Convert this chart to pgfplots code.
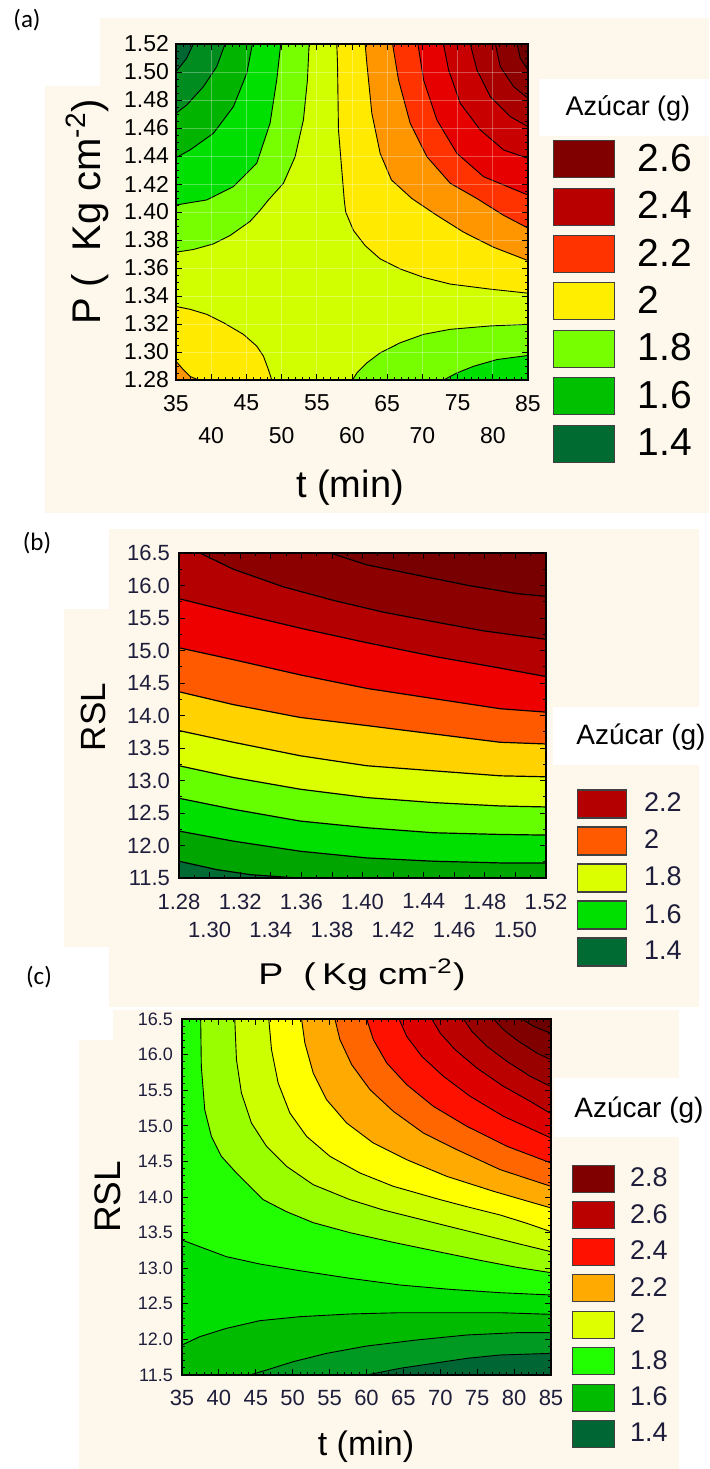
\documentclass[border=0pt]{standalone}
\usepackage{graphicx}
\usepackage{pgfplots}
\pgfplotsset{compat=1.18}
\usepackage{fontspec}
\setmainfont{Liberation Sans}
\newfontfamily\calibri{Carlito}
\newcommand{\fs}[1]{\fontsize{#1}{#1}\selectfont}
\definecolor{cream}{HTML}{FEF8EC}
\definecolor{navy}{HTML}{1E1E3C}
% panel a
\definecolor{aA}{HTML}{006633}
\definecolor{aB}{HTML}{008C1E}
\definecolor{aC}{HTML}{00B400}
\definecolor{aD}{HTML}{00E000}
\definecolor{aE}{HTML}{77FF00}
\definecolor{aF}{HTML}{D2FF00}
\definecolor{aG}{HTML}{FFEA00}
\definecolor{aH}{HTML}{FF9600}
\definecolor{aI}{HTML}{FF3300}
\definecolor{aJ}{HTML}{E60000}
\definecolor{aK}{HTML}{C80000}
\definecolor{aL}{HTML}{A80000}
\definecolor{aM}{HTML}{8C0000}
\definecolor{aN}{HTML}{700000}
\definecolor{laA}{HTML}{800000}
\definecolor{laB}{HTML}{B80000}
\definecolor{laC}{HTML}{FF3300}
\definecolor{laD}{HTML}{FFEE00}
\definecolor{laE}{HTML}{77FF00}
\definecolor{laF}{HTML}{00C000}
\definecolor{laG}{HTML}{006B30}
% panel b
\definecolor{bA}{HTML}{006B33}
\definecolor{bB}{HTML}{00A500}
\definecolor{bC}{HTML}{00E000}
\definecolor{bD}{HTML}{66FF00}
\definecolor{bE}{HTML}{DCFF00}
\definecolor{bF}{HTML}{FFD200}
\definecolor{bG}{HTML}{FF5A00}
\definecolor{bH}{HTML}{EE0000}
\definecolor{bI}{HTML}{B40000}
\definecolor{bJ}{HTML}{8C0000}
\definecolor{bK}{HTML}{780000}
% panel c
\definecolor{cA}{HTML}{006633}
\definecolor{cB}{HTML}{009922}
\definecolor{cC}{HTML}{00BB00}
\definecolor{cD}{HTML}{00DD00}
\definecolor{cE}{HTML}{22FF00}
\definecolor{cF}{HTML}{99FF00}
\definecolor{cG}{HTML}{CCFF00}
\definecolor{cH}{HTML}{FFFF00}
\definecolor{cI}{HTML}{FFAA00}
\definecolor{cJ}{HTML}{FF6600}
\definecolor{cK}{HTML}{FF1100}
\definecolor{cL}{HTML}{DD0000}
\definecolor{cM}{HTML}{BB0000}
\definecolor{cN}{HTML}{990000}
\definecolor{cO}{HTML}{800000}
\definecolor{cP}{HTML}{6B0000}
\definecolor{lcE}{HTML}{DDFF00}
\pgfplotsset{
  cstyle/.style={scale only axis, anchor=south west, axis on top, tick align=inside,
    major tick length=3pt, minor tick length=1.5pt,
    axis line style={line width=0.6pt},
    every tick/.style={black, line width=0.4pt},
    legend cell align=left},
  reg/.style={fill=#1, draw=black, line width=0.45pt, line join=round, forget plot},
  base/.style={fill=#1, draw=none, forget plot},
}
\begin{document}
\begin{tikzpicture}
\useasboundingbox (0,0) rectangle (354.5pt,734.5pt);
% backgrounds
\fill[cream] (50pt,478pt) rectangle (354.5pt,725.5pt);
\fill[cream] (22.5pt,478pt) rectangle (50pt,691.5pt);
\fill[white] (269.5pt,666.5pt) rectangle (354.5pt,695pt);
\fill[cream] (54.5pt,231pt) rectangle (349.5pt,470pt);
\fill[cream] (32pt,261pt) rectangle (54.5pt,430pt);
\fill[white] (276.5pt,352pt) rectangle (354.5pt,381pt);
\fill[cream] (56.5pt,0pt) rectangle (339.5pt,229.5pt);
\fill[cream] (39.5pt,0pt) rectangle (56.5pt,214.5pt);
\fill[white] (277pt,166pt) rectangle (354.5pt,195.5pt);

% ================= panel (a) =================
\begin{axis}[cstyle, at={(88pt,544.5pt)}, width=176pt, height=168pt,
  xmin=35, xmax=85, ymin=1.28, ymax=1.52,
  xtick={35,45,55,65,75,85}, xticklabels={35,45,55,65,75,85},
  extra x ticks={40,50,60,70,80}, extra x tick labels={40,50,60,70,80},
  extra x tick style={grid=major, xticklabel style={yshift=-16pt}},
  ytick={1.28,1.30,1.32,1.34,1.36,1.38,1.40,1.42,1.44,1.46,1.48,1.50,1.52},
  yticklabels={1.28,1.30,1.32,1.34,1.36,1.38,1.40,1.42,1.44,1.46,1.48,1.50,1.52},
  minor x tick num=9, minor y tick num=3,
  grid=major, grid style={white, opacity=0.3, line width=0.3pt},
  tick label style={font=\fs{11.5}}, xticklabel style={yshift=-4pt},
  legend style={draw=none, fill=none, inner sep=0pt, outer sep=0pt, row sep=4.6pt,
    column sep=9.5pt, font=\fs{19.5}, at={(1.071,0.7143)}, anchor=north west},
  legend image code/.code={\draw[#1, draw=black!75, line width=0.5pt] (0pt,-9.25pt) rectangle (30.5pt,9.25pt);},
]
\addplot[base=aF] coordinates {(35,1.28)(85,1.28)(85,1.52)(35,1.52)};
% top-left (low) corner
\addplot[reg=aE] coordinates {(53.91,1.52)(53.67,1.4943)(53.10,1.4657)(51.92,1.4395)(50.26,1.4205)(48.13,1.4086)(46.94,1.4012)(45.52,1.3933)(42.68,1.3832)(40.31,1.3772)(37.46,1.3732)(35,1.3713)(35,1.52)};
\addplot[reg=aD] coordinates {(49.88,1.52)(49.31,1.4943)(48.36,1.4633)(46.47,1.4348)(43.15,1.4181)(39.36,1.4086)(35,1.405)(35,1.52)};
\addplot[reg=aC] coordinates {(45.85,1.52)(45.05,1.499)(43.15,1.4752)(40.31,1.4562)(36.99,1.4443)(35,1.4388)(35,1.52)};
\addplot[reg=aB] coordinates {(41.97,1.52)(40.78,1.5038)(38.89,1.4895)(36.52,1.4764)(35,1.4705)(35,1.52)};
\addplot[reg=aA] coordinates {(37.46,1.52)(36.52,1.5098)(35,1.5002)(35,1.52)};
% bottom-right (low) corner
\addplot[reg=aE] coordinates {(60.07,1.28)(60.69,1.285)(62.11,1.2922)(64.0,1.2994)(66.85,1.3066)(70.17,1.3126)(73.96,1.3162)(79.64,1.3186)(85,1.3198)(85,1.28)};
\addplot[reg=aD] coordinates {(73.0,1.28)(74.9,1.285)(77.27,1.2898)(80.59,1.2946)(85,1.2975)(85,1.28)};
% bottom-left (high) corner
\addplot[reg=aG] coordinates {(35,1.3325)(36.99,1.3305)(39.36,1.3269)(41.73,1.321)(44.57,1.3126)(46.47,1.3042)(47.42,1.297)(48.13,1.2874)(48.6,1.28)(35,1.28)};
\addplot[reg=aH] coordinates {(35,1.2934)(36.04,1.2874)(36.99,1.2826)(38.18,1.28)(35,1.28)};
% top-right (high) corner
\addplot[reg=aG] coordinates {(57.84,1.52)(57.94,1.5062)(58.08,1.4586)(58.55,1.43)(58.9,1.4086)(59.1,1.40)(60.21,1.3868)(61.87,1.376)(64.0,1.3665)(66.85,1.3593)(70.17,1.3533)(73.96,1.3485)(79.64,1.3449)(85,1.342)(85,1.52)};
\addplot[reg=aH] coordinates {(61.87,1.52)(62.11,1.5062)(62.82,1.4705)(64.0,1.4419)(65.6,1.4229)(68.51,1.4096)(72.06,1.3976)(75.85,1.3856)(80.12,1.3748)(85,1.3653)(85,1.52)};
\addplot[reg=aI] coordinates {(65.76,1.52)(66.61,1.4943)(68.27,1.4633)(70.64,1.4395)(73.96,1.4205)(77.75,1.4096)(81.54,1.3976)(85,1.3885)(85,1.52)};
\addplot[reg=aJ] coordinates {(69.36,1.52)(70.17,1.4943)(72.06,1.4657)(74.9,1.4419)(78.7,1.4252)(85,1.4121)(85,1.52)};
\addplot[reg=aK] coordinates {(73.0,1.52)(73.72,1.5014)(75.38,1.4776)(78.22,1.4586)(81.54,1.4443)(85,1.4383)(85,1.52)};
\addplot[reg=aL] coordinates {(76.8,1.52)(77.75,1.5014)(79.64,1.4824)(82.49,1.4681)(85,1.461)(85,1.52)};
\addplot[reg=aM] coordinates {(80.36,1.52)(81.07,1.5038)(82.96,1.4895)(85,1.4812)(85,1.52)};
\addplot[reg=aN] coordinates {(83.44,1.52)(83.9,1.5098)(85,1.5014)(85,1.52)};
\addlegendimage{fill=laA}\addlegendentry{2.6}
\addlegendimage{fill=laB}\addlegendentry{2.4}
\addlegendimage{fill=laC}\addlegendentry{2.2}
\addlegendimage{fill=laD}\addlegendentry{2}
\addlegendimage{fill=laE}\addlegendentry{1.8}
\addlegendimage{fill=laF}\addlegendentry{1.6}
\addlegendimage{fill=laG}\addlegendentry{1.4}
\end{axis}

% ================= panel (b) =================
\begin{axis}[cstyle, at={(89.5pt,295.5pt)}, width=183.5pt, height=162.5pt,
  xmin=1.28, xmax=1.52, ymin=11.5, ymax=16.5,
  xtick={1.28,1.32,1.36,1.40,1.44,1.48,1.52}, xticklabels={1.28,1.32,1.36,1.40,1.44,1.48,1.52},
  extra x ticks={1.30,1.34,1.38,1.42,1.46,1.50}, extra x tick labels={1.30,1.34,1.38,1.42,1.46,1.50},
  extra x tick style={xticklabel style={yshift=-14pt}},
  ytick={11.5,12,12.5,13,13.5,14,14.5,15,15.5,16,16.5},
  yticklabels={11.5,12.0,12.5,13.0,13.5,14.0,14.5,15.0,15.5,16.0,16.5},
  minor x tick num=3, minor y tick num=1,
  tick label style={font=\fs{11}, text=navy}, xticklabel style={yshift=-4.4pt}, yticklabel style={xshift=-1pt},
  legend style={draw=none, fill=none, inner sep=0pt, outer sep=0pt, row sep=3.6pt,
    column sep=6.5pt, font=\fs{13.5}, text=navy, at={(1.0845,0.2738)}, anchor=north west},
  legend image code/.code={\draw[#1, draw=black!75, line width=0.6pt] (0pt,-7pt) rectangle (24.5pt,7pt);},
]
\addplot[base=bA] coordinates {(1.28,11.5)(1.52,11.5)(1.52,16.5)(1.28,16.5)};
\addplot[reg=bB, line width=0.6pt] coordinates {(1.52,16.5)(1.28,16.5)(1.28,11.758)(1.3047,11.629)(1.3265,11.552)(1.357,11.5)(1.52,11.5)};
\addplot[reg=bC, line width=0.6pt] coordinates {(1.52,16.5)(1.28,16.5)(1.28,12.222)(1.3156,12.067)(1.3592,11.912)(1.4028,11.809)(1.4465,11.758)(1.4901,11.732)(1.52,11.732)};
\addplot[reg=bD, line width=0.6pt] coordinates {(1.52,16.5)(1.28,16.5)(1.28,12.727)(1.3156,12.557)(1.3592,12.376)(1.4028,12.273)(1.4465,12.196)(1.4901,12.170)(1.52,12.160)};
\addplot[reg=bE, line width=0.6pt] coordinates {(1.52,16.5)(1.28,16.5)(1.28,13.227)(1.3156,13.046)(1.3592,12.866)(1.4028,12.737)(1.4465,12.66)(1.4901,12.608)(1.52,12.593)};
\addplot[reg=bF, line width=0.6pt] coordinates {(1.52,16.5)(1.28,16.5)(1.28,13.768)(1.3156,13.588)(1.3592,13.381)(1.4028,13.227)(1.4465,13.149)(1.4901,13.072)(1.52,13.057)};
\addplot[reg=bG, line width=0.6pt] coordinates {(1.52,16.5)(1.28,16.5)(1.28,14.365)(1.3156,14.167)(1.3592,13.97)(1.4028,13.845)(1.4465,13.716)(1.4901,13.588)(1.52,13.562)};
\addplot[reg=bH, line width=0.6pt] coordinates {(1.52,16.5)(1.28,16.5)(1.28,15.042)(1.3156,14.859)(1.3592,14.625)(1.4028,14.417)(1.4465,14.26)(1.4901,14.104)(1.52,14.052)};
\addplot[reg=bI, line width=0.6pt] coordinates {(1.52,16.5)(1.28,16.5)(1.28,15.797)(1.3156,15.589)(1.3592,15.344)(1.4028,15.120)(1.4465,14.911)(1.4901,14.729)(1.52,14.599)};
\addplot[reg=bJ, line width=0.6pt] coordinates {(1.52,16.5)(1.2937,16.5)(1.3156,16.25)(1.3483,15.979)(1.3810,15.771)(1.4138,15.589)(1.4465,15.443)(1.4792,15.302)(1.52,15.172)};
\addplot[reg=bK, line width=0.6pt] coordinates {(1.52,16.5)(1.3788,16.5)(1.4028,16.318)(1.4356,16.161)(1.4683,16.005)(1.5010,15.875)(1.52,15.833)};
\addlegendimage{fill=bI}\addlegendentry{2.2}
\addlegendimage{fill=bG}\addlegendentry{2}
\addlegendimage{fill=bE}\addlegendentry{1.8}
\addlegendimage{fill=bC}\addlegendentry{1.6}
\addlegendimage{fill=bA}\addlegendentry{1.4}
\end{axis}

% ================= panel (c) =================
\begin{axis}[cstyle, at={(91pt,47pt)}, width=184.5pt, height=178pt,
  xmin=35, xmax=85, ymin=11.5, ymax=16.5,
  xtick={35,40,45,50,55,60,65,70,75,80,85}, xticklabels={35,40,45,50,55,60,65,70,75,80,85},
  ytick={11.5,12,12.5,13,13.5,14,14.5,15,15.5,16,16.5},
  yticklabels={11.5,12.0,12.5,13.0,13.5,14.0,14.5,15.0,15.5,16.0,16.5},
  minor x tick num=4, minor y tick num=4,
  xticklabel style={font=\fs{11}, text=navy, yshift=-3.9pt},
  yticklabel style={font=\fs{9}, text=navy, xshift=-1pt},
  legend style={draw=none, fill=none, inner sep=0pt, outer sep=0pt, row sep=3.3pt,
    column sep=5.5pt, font=\fs{13.5}, text=navy, at={(1.0569,0.5927)}, anchor=north west},
  legend image code/.code={\draw[#1, draw=black!75, line width=0.6pt] (0pt,-6.75pt) rectangle (21pt,6.75pt);},
]
\addplot[base=cD] coordinates {(35,11.5)(85,11.5)(85,16.5)(35,16.5)};
% low side
\addplot[reg=cC] coordinates {(85,11.5)(35,11.5)(35,11.921)(37.40,12.038)(41.02,12.155)(45.54,12.263)(50.97,12.319)(57.76,12.357)(64.55,12.375)(71.33,12.375)(78.12,12.375)(85,12.352)};
\addplot[reg=cB] coordinates {(85,11.5)(44.19,11.5)(46.45,11.570)(50.07,11.687)(54.59,11.804)(60.02,11.907)(66.81,11.992)(73.60,12.062)(80.38,12.095)(85,12.095)};
\addplot[reg=cA] coordinates {(85,11.5)(60.02,11.5)(64.55,11.594)(69.07,11.664)(73.60,11.734)(78.12,11.781)(85,11.804)};
% high side
\addplot[reg=cE] coordinates {(85,16.5)(35,16.5)(35,13.396)(37.40,13.302)(41.02,13.162)(45.54,13.059)(50.97,12.965)(57.76,12.858)(64.55,12.764)(71.33,12.703)(78.12,12.656)(85,12.624)};
\addplot[reg=cF] coordinates {(85,16.5)(37.53,16.5)(37.62,15.835)(38.08,15.227)(38.98,14.852)(40.34,14.571)(42.38,14.337)(46.0,13.963)(49.16,13.794)(52.78,13.640)(57.76,13.499)(63.19,13.373)(69.07,13.246)(75.86,13.101)(80.38,13.012)(85,12.937)};
\addplot[reg=cG] coordinates {(85,16.5)(42.15,16.5)(42.38,15.929)(43.05,15.461)(44.41,15.039)(46.45,14.712)(49.16,14.431)(52.78,14.173)(57.76,13.963)(62.29,13.817)(66.81,13.700)(71.33,13.583)(75.86,13.466)(80.38,13.349)(85,13.232)};
\addplot[reg=cH] coordinates {(85,16.5)(46.76,16.5)(47.13,16.069)(48.03,15.601)(49.62,15.180)(51.88,14.852)(55.05,14.571)(59.12,14.337)(63.64,14.150)(69.98,13.963)(73.60,13.864)(78.12,13.747)(81.74,13.630)(85,13.513)};
\addplot[reg=cI] coordinates {(85,16.5)(51.20,16.5)(51.65,16.163)(52.78,15.742)(54.59,15.367)(57.31,15.039)(60.93,14.758)(65.45,14.524)(70.88,14.290)(77.22,14.080)(85,13.846)};
\addplot[reg=cJ] coordinates {(85,16.5)(55.72,16.5)(56.40,16.210)(57.99,15.859)(60.48,15.507)(63.64,15.203)(67.71,14.899)(72.24,14.665)(78.12,14.384)(85,14.150)};
\addplot[reg=cK] coordinates {(85,16.5)(60.02,16.5)(60.93,16.210)(62.74,15.882)(65.45,15.578)(69.07,15.273)(73.60,14.993)(79.03,14.712)(85,14.478)};
\addplot[reg=cL] coordinates {(85,16.5)(64.41,16.5)(65.45,16.257)(67.49,15.976)(70.43,15.695)(74.05,15.414)(78.57,15.133)(85,14.829)};
\addplot[reg=cM] coordinates {(85,16.5)(68.85,16.5)(69.98,16.303)(72.01,16.069)(74.95,15.812)(78.57,15.554)(82.19,15.344)(85,15.170)};
\addplot[reg=cN] coordinates {(85,16.5)(73.14,16.5)(74.28,16.327)(76.31,16.116)(79.03,15.905)(82.19,15.695)(85,15.550)};
\addplot[reg=cO] coordinates {(85,16.5)(77.22,16.5)(78.57,16.350)(80.61,16.186)(83.10,16.022)(85,15.929)};
\addplot[reg=cP] coordinates {(85,16.5)(81.06,16.5)(82.65,16.397)(85,16.299)};
\addlegendimage{fill=cO}\addlegendentry{2.8}
\addlegendimage{fill=cM}\addlegendentry{2.6}
\addlegendimage{fill=cK}\addlegendentry{2.4}
\addlegendimage{fill=cI}\addlegendentry{2.2}
\addlegendimage{fill=lcE}\addlegendentry{2}
\addlegendimage{fill=cE}\addlegendentry{1.8}
\addlegendimage{fill=cC}\addlegendentry{1.6}
\addlegendimage{fill=cA}\addlegendentry{1.4}
\end{axis}

% labels
\node[font=\calibri\fs{12.5}] at (13.5pt,724.5pt) {(a)};
\node[font=\calibri\fs{12.5}] at (18.5pt,463pt) {(b)};
\node[font=\calibri\fs{12.5}] at (19.5pt,246pt) {(c)};
\node[rotate=90, font=\fs{20}] at (43.5pt,628.5pt) {P (\ \ Kg cm\textsuperscript{-2})};
\node[font=\fs{19}] at (175pt,490.5pt) {t (min)};
\node[font=\fs{13.5}] at (314pt,680.5pt) {Azúcar (g)};
\node[rotate=90, font=\fs{17.5}] at (46.5pt,376pt) {RSL};
\node[font=\fs{15}] at (181pt,247pt) {\scalebox{1.25}[1]{P\hspace{8pt}(\,Kg cm\textsuperscript{-2})}};
\node[font=\fs{14}] at (320.5pt,366pt) {Azúcar (g)};
\node[rotate=90, font=\fs{18.5}] at (54pt,136pt) {RSL};
\node[font=\fs{17}] at (183pt,11pt) {t (min)};
\node[font=\fs{14}] at (319.5pt,179.5pt) {Azúcar (g)};
\end{tikzpicture}
\end{document}
